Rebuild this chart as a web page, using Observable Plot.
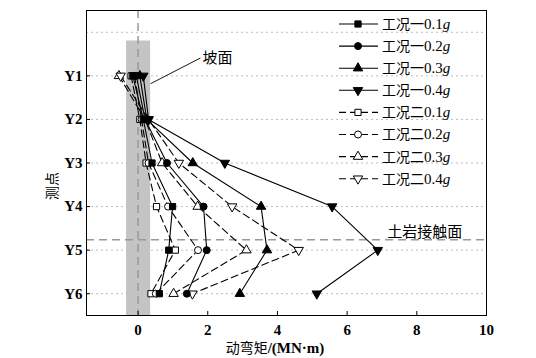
<!DOCTYPE html>
<html>
<head>
<meta charset="utf-8">
<script src="https://cdn.jsdelivr.net/npm/d3@7"></script>
<script src="https://cdn.jsdelivr.net/npm/@observablehq/plot@0.6"></script>
<style>
body { margin: 0; background: #fff; }
</style>
</head>
<body>
<div id="chart"></div>
<script>
// Measurement points (Y1..Y6 at positions 1..6)
const points = ["Y1", "Y2", "Y3", "Y4", "Y5", "Y6"];
const pointPos = [1, 2, 3, 4, 5, 6];
const xTicks = [0, 2, 4, 6, 8, 10];

// Series names
const seriesNames = ["工况一0.1", "工况一0.2", "工况一0.3", "工况一0.4",
                     "工况二0.1", "工况二0.2", "工况二0.3", "工况二0.4"];
// Dynamic bending moment (MN·m) at Y1..Y6
const case1_01 = [-0.15, 0.15, 0.40, 0.99, 0.88, 0.61];
const case1_02 = [-0.05, 0.20, 0.83, 1.88, 1.97, 1.40];
const case1_03 = [0.05, 0.25, 1.57, 3.53, 3.70, 2.92];
const case1_04 = [0.15, 0.30, 2.49, 5.57, 6.88, 5.13];
const case2_01 = [-0.20, 0.05, 0.23, 0.53, 1.07, 0.37];
const case2_02 = [-0.10, 0.10, 0.30, 0.86, 1.72, 0.51];
const case2_03 = [-0.55, 0.20, 0.69, 1.71, 3.11, 1.02];
const case2_04 = [-0.50, 0.30, 1.17, 2.70, 4.61, 1.56];
const seriesValues = [case1_01, case1_02, case1_03, case1_04, case2_01, case2_02, case2_03, case2_04];

// Annotations
const slopeBand = {x1: -0.33, x2: 0.36, y1: 0.2, y2: 6.5};
const interfaceY = 4.76;
const slopeLabel = {x: 1.85, y: 0.59, text: "坡面"};
const slopeLeader = {x1: 0.36, y1: 1.18, x2: 1.79, y2: 0.59};
const interfaceLabel = {x: 8.23, y: 4.58, text: "土岩接触面"};

const SERIF = "'Liberation Serif', 'Times New Roman', serif";
const CJK = "'Noto Sans CJK SC', sans-serif";

const symbolOf = i => ["square", "circle", "triangle", "triangle"][i % 4];
const rotateOf = i => (i % 4 === 3 ? 180 : 0);
const filledOf = i => i < 4;

const rows = [];
seriesValues.forEach((vals, s) => {
  vals.forEach((v, k) => rows.push({series: s, x: v, y: pointPos[k]}));
});

const marks = [
  Plot.rect([slopeBand], {x1: "x1", x2: "x2", y1: "y1", y2: "y2", fill: "#c4c4c4"}),
  Plot.ruleY([0, 1, 2, 3, 4, 5, 6], {stroke: "#bdbdbd", strokeDasharray: "2,3", strokeWidth: 1}),
  Plot.ruleX([0], {stroke: "#999", strokeDasharray: "8,5", strokeWidth: 1.5}),
  Plot.ruleY([interfaceY], {stroke: "#999", strokeDasharray: "8,5", strokeWidth: 1.5}),
];
seriesValues.forEach((vals, s) => {
  const d = rows.filter(r => r.series === s);
  marks.push(Plot.line(d, {x: "x", y: "y", stroke: "black", strokeWidth: 1.1,
    strokeDasharray: filledOf(s) ? null : "7,4"}));
});
// hollow markers first, filled markers on top
[4, 5, 6, 7, 0, 1, 2, 3].forEach(s => {
  const d = rows.filter(r => r.series === s);
  marks.push(Plot.dot(d, {x: "x", y: "y", symbol: symbolOf(s), rotate: rotateOf(s), r: 3.5,
    fill: filledOf(s) ? "black" : "white", stroke: "black", strokeWidth: 1}));
});
marks.push(
  Plot.link([slopeLeader], {x1: "x1", y1: "y1", x2: "x2", y2: "y2", stroke: "black", strokeWidth: 0.9}),
  Plot.text([slopeLabel], {x: "x", y: "y", text: "text", fontSize: 15, textAnchor: "start", fontFamily: CJK}),
  Plot.text([interfaceLabel], {x: "x", y: "y", text: "text", fontSize: 15, fontFamily: CJK}),
  Plot.axisX({ticks: xTicks, tickSize: 0, tickPadding: 9, fontSize: 15, fontWeight: "bold", fontFamily: SERIF, label: null}),
  Plot.axisX({ticks: xTicks, tickSize: -4, tickFormat: () => "", label: null}),
  Plot.axisY({ticks: pointPos, tickSize: 0, tickPadding: 4, fontSize: 15, fontWeight: "bold", fontFamily: SERIF,
    tickFormat: d => points[d - 1], label: null}),
  Plot.axisY({ticks: pointPos, tickSize: -4, tickFormat: () => "", label: null}),
  Plot.frame({stroke: "black", strokeWidth: 1})
);

const chart = Plot.plot({
  width: 536,
  height: 358,
  marginTop: 10,
  marginBottom: 43,
  marginLeft: 86,
  marginRight: 50,
  x: {domain: [-1.48, 10]},
  y: {domain: [-0.5, 6.5], reverse: true},
  style: {background: "white", color: "black"},
  marks
});
document.getElementById("chart").appendChild(chart);

const svg = d3.select(chart);
// Axis titles
const xt = svg.append("text").attr("x", 275).attr("y", 353).attr("text-anchor", "middle")
  .attr("font-size", 14);
xt.append("tspan").attr("font-family", CJK).text("动弯矩");
xt.append("tspan").attr("font-family", SERIF).attr("font-weight", "bold").attr("font-size", 15).text("/(MN·m)");
svg.append("text").attr("transform", "translate(57,186) rotate(-90)").attr("text-anchor", "middle")
  .attr("font-size", 14).attr("font-family", CJK).text("测点");

// Legend
const sym = d3.symbol().size(Math.PI * 3.5 * 3.5);
const symType = i => [d3.symbolSquare, d3.symbolCircle, d3.symbolTriangle, d3.symbolTriangle][i % 4];
const lg = svg.append("g").attr("text-anchor", "start");
seriesNames.forEach((name, i) => {
  const y = 24 + i * 22.1;
  lg.append("line").attr("x1", 339).attr("x2", 378).attr("y1", y).attr("y2", y)
    .attr("stroke", "black").attr("stroke-width", 1.1)
    .attr("stroke-dasharray", filledOf(i) ? null : "7,4");
  lg.append("path").attr("d", sym.type(symType(i))())
    .attr("transform", `translate(358,${y}) rotate(${rotateOf(i)})`)
    .attr("fill", filledOf(i) ? "black" : "white").attr("stroke", "black");
  const t = lg.append("text").attr("x", 382).attr("y", y).attr("dy", "0.35em").attr("font-size", 14);
  t.append("tspan").attr("font-family", CJK).text(name.slice(0, 3));
  t.append("tspan").attr("font-family", SERIF).attr("font-size", 15).text(name.slice(3));
  t.append("tspan").attr("font-family", SERIF).attr("font-size", 15).attr("font-style", "italic").text("g");
});
</script>
</body>
</html>
